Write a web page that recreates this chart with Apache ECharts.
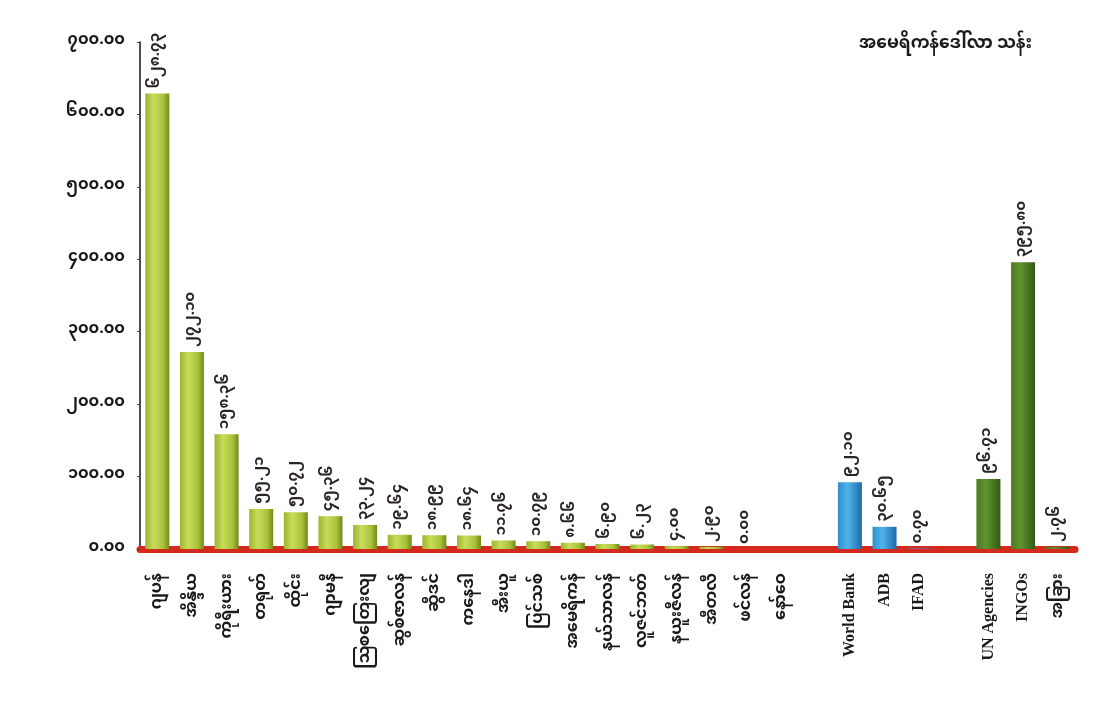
<!DOCTYPE html>
<html><head><meta charset="utf-8">
<script src="https://cdn.jsdelivr.net/npm/echarts@6/dist/echarts.min.js"></script>
<style>html,body{margin:0;padding:0;background:#fff}#c{width:1115px;height:712px}</style>
</head><body><div id="c"></div>
<script>
const categories = ['ဂျပန်','အိန္ဒိယ','ကိုရီးယား','တရုတ်','ထိုင်း','ဂျာမနီ','ဩစတြေးလျ','ဆွစ်ဇာလန်','ဆွီဒင်','ကနေဒါ','အီးယူ','ပြင်သစ်','အမေရိကန်','နယ်သာလန်','လူဇင်ဘတ်','နယူးဇီလန်','အီတလီ','ဖင်လန်','နော်ဝေ','','World Bank','ADB','IFAD','','UN Agencies','INGOs','အခြား'];
const values = [628.73,272.10,158.36,55.21,50.72,45.36,33.24,19.64,18.99,18.64,11.76,10.79,8.66,6.90,6.23,4.00,2.90,0.00,null,null,92.10,30.65,0.70,null,96.71,395.80,2.76];
const groups = ['bilateral','bilateral','bilateral','bilateral','bilateral','bilateral','bilateral','bilateral','bilateral','bilateral','bilateral','bilateral','bilateral','bilateral','bilateral','bilateral','bilateral','bilateral','bilateral','','multilateral','multilateral','multilateral','','other','other','other'];
const yTicks = [0,100,200,300,400,500,600,700];
const unitTitle = 'အမေရိကန်ဒေါ်လာ သန်း';

const MM = '၀၁၂၃၄၅၆၇၈၉';
function toMM(s){ return String(s).replace(/[0-9]/g, d => MM[+d]); }
const FONT = '"Noto Sans Myanmar","Padauk","Myanmar Text","Noto Sans","DejaVu Sans",sans-serif';

const palette = {
  bilateral: new echarts.graphic.LinearGradient(0,0,1,0,[{offset:0,color:'#9cb52c'},{offset:0.35,color:'#c8dc5a'},{offset:0.75,color:'#a9c23a'},{offset:1,color:'#6f8a18'}]),
  multilateral: new echarts.graphic.LinearGradient(0,0,1,0,[{offset:0,color:'#2f8fd0'},{offset:0.4,color:'#4fb3ec'},{offset:1,color:'#1f6aa8'}]),
  other: new echarts.graphic.LinearGradient(0,0,1,0,[{offset:0,color:'#4d7c22'},{offset:0.4,color:'#5f9330'},{offset:1,color:'#335a14'}])
};

const chart = echarts.init(document.getElementById('c'));
chart.setOption({
  backgroundColor:'#fff',
  animation:false,
  title:{text:unitTitle,right:78,top:33,textStyle:{fontFamily:FONT,fontSize:17,fontWeight:'bold',color:'#1a1a1a'}},
  grid:{left:140,right:40,top:42,bottom:163},
  xAxis:{
    type:'category',data:categories,min:yTicks[0]===0?undefined:undefined,
    axisLine:{show:true,lineStyle:{color:'#d42a1e',width:7}},
    axisTick:{show:false},
    axisLabel:{rotate:90,interval:0,margin:24,fontFamily:'"Liberation Serif","DejaVu Serif",'+FONT,fontSize:16,fontWeight:'bold',color:'#1a1a1a'}
  },
  yAxis:{
    type:'value',min:0,max:700,interval:100,
    axisLine:{show:true,lineStyle:{color:'#111',width:1.5}},
    axisTick:{show:true,length:3,lineStyle:{color:'#444'}},
    splitLine:{show:false},
    axisLabel:{margin:15,fontFamily:FONT,fontSize:16,fontWeight:'bold',color:'#1a1a1a',
      formatter:v=>toMM(v.toFixed(2))}
  },
  series:[{
    type:'bar',barWidth:24,
    data:values.map((v,i)=>({value:v,itemStyle:{color:groups[i]?palette[groups[i]]:'#999'}})),
    label:{show:true,position:'top',rotate:90,align:'left',verticalAlign:'middle',distance:5,
      fontFamily:FONT,fontSize:15,fontWeight:'bold',color:'#2a2424',
      formatter:p=>p.value==null?'':toMM(Number(p.value).toFixed(2))}
  }]
});
</script></body></html>
